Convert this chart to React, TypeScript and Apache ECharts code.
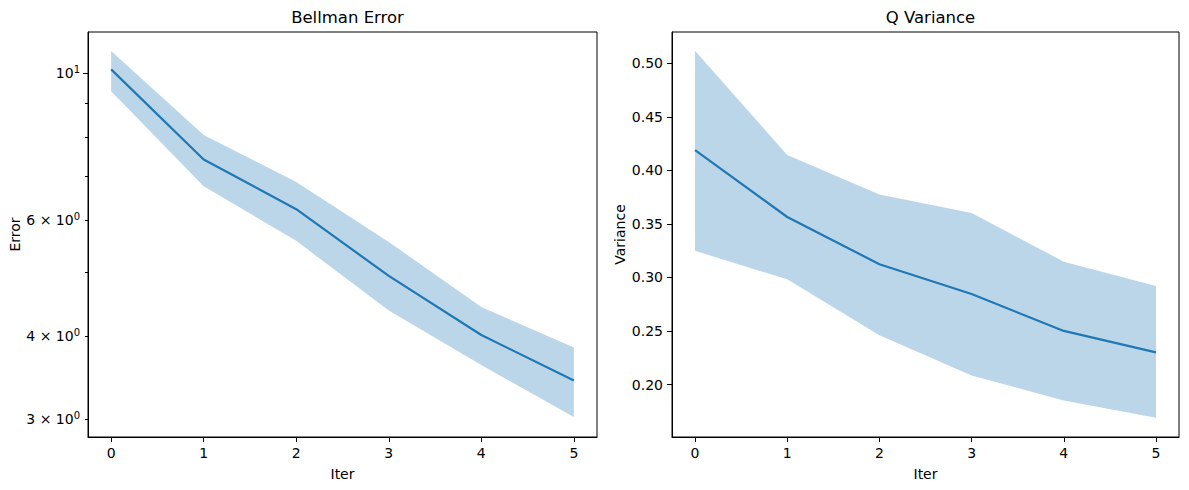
import React, { useEffect, useRef } from "react";
import * as echarts from "echarts";

const iters = [0, 1, 2, 3, 4, 5];

// Bellman Error (log scale)
const errMean = [10.14, 7.41, 6.23, 4.94, 4.02, 3.43];
const errUpper = [10.81, 8.07, 6.85, 5.56, 4.43, 3.85];
const errLower = [9.4, 6.75, 5.58, 4.38, 3.62, 3.02];
const errMajorTicks = [10];
const errMinorTicks = [3, 4, 5, 6, 7, 8, 9];
const errMinorLabels = [3, 4, 6];
const errLimits = [2.818, 11.55];

// Q Variance
const varMean = [0.419, 0.3565, 0.3124, 0.2845, 0.2501, 0.2301];
const varUpper = [0.5118, 0.4143, 0.3774, 0.3602, 0.3148, 0.292];
const varLower = [0.3249, 0.2983, 0.2461, 0.2085, 0.1851, 0.1689];
const varTicks = [0.2, 0.25, 0.3, 0.35, 0.4, 0.45, 0.5];
const varLimits = [0.151, 0.5293];

const xLimits = [-0.25, 5.25];

const BLUE = "#1f77b4";
const FONT = "DejaVu Sans";
const TICK_FS = 14;

export default function App() {
  const ref = useRef<HTMLDivElement>(null);

  useEffect(() => {
    if (!ref.current) return;
    const chart = echarts.init(ref.current, undefined, { renderer: "svg" });
    const lg = (v: number) => Math.log10(v);

    const textStyle = { fontFamily: FONT, color: "#000", fontSize: TICK_FS };
    const rich = {
      sup: { fontFamily: FONT, color: "#000", fontSize: 10, padding: [0, 0, 8, 0] },
    };

    const xAxisBase = (gridIndex: number) => ({
      type: "value",
      gridIndex,
      min: xLimits[0],
      max: xLimits[1],
      name: "Iter",
      nameLocation: "middle",
      nameGap: 30,
      nameTextStyle: { ...textStyle },
      splitLine: { show: false },
      axisLine: { show: true, onZero: false, lineStyle: { color: "#000", width: 1 } },
      axisTick: {
        show: true,
        length: 5,
        lineStyle: { color: "#000", width: 1 },
        customValues: iters,
      },
      axisLabel: {
        ...textStyle,
        margin: 9,
        customValues: iters,
        formatter: (v: number) => String(Math.round(v)),
      },
    });

    const band = (xi: number, yi: number, lower: number[], upper: number[]) => ({
      type: "custom",
      xAxisIndex: xi,
      yAxisIndex: yi,
      silent: true,
      z: 1,
      encode: { x: 0, y: [1, 2] },
      data: iters.map((x, i) => [x, lower[i], upper[i]]),
      renderItem: (params: any, api: any) => {
        if (params.dataIndex !== 0) return null;
        const top = iters.map((x, i) => api.coord([x, upper[i]]));
        const bot = iters.map((x, i) => api.coord([x, lower[i]])).reverse();
        return {
          type: "polygon",
          shape: { points: [...top, ...bot] },
          style: { fill: BLUE, opacity: 0.3 },
        };
      },
    });

    const option: any = {
      animation: false,
      backgroundColor: "#fff",
      title: [
        {
          text: "Bellman Error",
          left: 342.5,
          top: 4,
          textAlign: "center",
          textStyle: { fontFamily: FONT, fontSize: 16.5, fontWeight: "normal", color: "#000" },
        },
        {
          text: "Q Variance",
          left: 925.5,
          top: 4,
          textAlign: "center",
          textStyle: { fontFamily: FONT, fontSize: 16.5, fontWeight: "normal", color: "#000" },
        },
      ],
      grid: [
        { left: 88, top: 32, width: 509, height: 405, show: true, borderColor: "#000", borderWidth: 1, backgroundColor: "transparent" },
        { left: 672, top: 32, width: 507, height: 405, show: true, borderColor: "#000", borderWidth: 1, backgroundColor: "transparent" },
      ],
      xAxis: [xAxisBase(0), xAxisBase(1)],
      yAxis: [
        {
          type: "value",
          gridIndex: 0,
          min: lg(errLimits[0]),
          max: lg(errLimits[1]),
          name: "Error",
          nameLocation: "middle",
          nameGap: 62,
          nameTextStyle: { ...textStyle },
          splitLine: { show: false },
          axisLine: { show: true, onZero: false, lineStyle: { color: "#000", width: 1 } },
          axisTick: {
            show: true,
            length: 3,
            lineStyle: { color: "#000", width: 1 },
            customValues: errMinorTicks.map(lg),
          },
          axisLabel: {
            ...textStyle,
            margin: 8,
            customValues: errMinorLabels.map(lg),
            formatter: (v: number) => `${Math.round(Math.pow(10, v))} × 10{sup|0}`,
            rich,
          },
        },
        {
          type: "value",
          gridIndex: 0,
          position: "left",
          min: lg(errLimits[0]),
          max: lg(errLimits[1]),
          splitLine: { show: false },
          axisLine: { show: false, onZero: false },
          axisTick: {
            show: true,
            length: 5,
            lineStyle: { color: "#000", width: 1 },
            customValues: errMajorTicks.map(lg),
          },
          axisLabel: {
            ...textStyle,
            margin: 8,
            customValues: errMajorTicks.map(lg),
            formatter: () => `10{sup|1}`,
            rich,
          },
        },
        {
          type: "value",
          gridIndex: 1,
          min: varLimits[0],
          max: varLimits[1],
          name: "Variance",
          nameLocation: "middle",
          nameGap: 45,
          nameTextStyle: { ...textStyle },
          splitLine: { show: false },
          axisLine: { show: true, onZero: false, lineStyle: { color: "#000", width: 1 } },
          axisTick: {
            show: true,
            length: 5,
            lineStyle: { color: "#000", width: 1 },
            customValues: varTicks,
          },
          axisLabel: {
            ...textStyle,
            margin: 9,
            customValues: varTicks,
            formatter: (v: number) => v.toFixed(2),
          },
        },
      ],
      series: [
        band(0, 0, errLower.map(lg), errUpper.map(lg)),
        {
          type: "line",
          xAxisIndex: 0,
          yAxisIndex: 0,
          symbol: "none",
          lineStyle: { color: BLUE, width: 2.2 },
          data: iters.map((x, i) => [x, lg(errMean[i])]),
          z: 3,
        },
        band(1, 2, varLower, varUpper),
        {
          type: "line",
          xAxisIndex: 1,
          yAxisIndex: 2,
          symbol: "none",
          lineStyle: { color: BLUE, width: 2.2 },
          data: iters.map((x, i) => [x, varMean[i]]),
          z: 3,
        },
      ],
    };

    chart.setOption(option);
    return () => chart.dispose();
  }, []);

  return (
    <div
      ref={ref}
      style={{ position: "absolute", left: 0, top: 0, width: 1189, height: 490, background: "#fff" }}
    />
  );
}
